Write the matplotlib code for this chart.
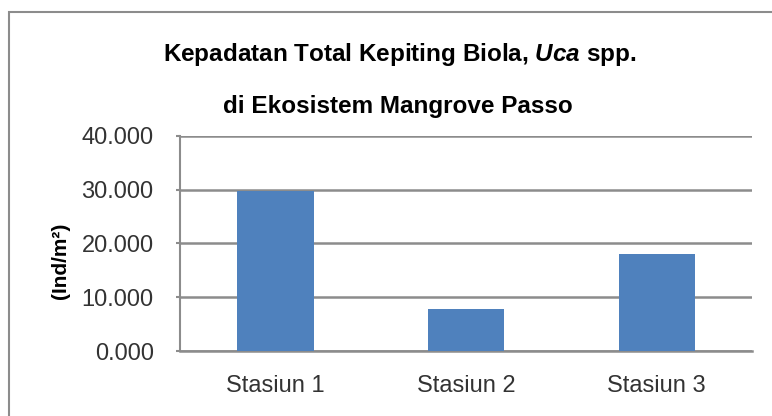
import matplotlib
matplotlib.use("Agg")
import matplotlib.pyplot as plt
from matplotlib.patches import Rectangle

# data
stations = ["Stasiun 1", "Stasiun 2", "Stasiun 3"]
density = [29.8, 7.9, 18.1]
yticks = [0, 10, 20, 30, 40]

plt.rcParams["font.family"] = ["Liberation Sans", "DejaVu Sans"]
plt.rcParams["mathtext.fontset"] = "custom"
plt.rcParams["mathtext.rm"] = "Liberation Sans"
plt.rcParams["mathtext.bf"] = "Liberation Sans:bold"
plt.rcParams["mathtext.it"] = "Liberation Sans:italic"
plt.rcParams["mathtext.bfit"] = "Liberation Sans:bold:italic"

fig = plt.figure(figsize=(7.72, 4.16), dpi=100)
ax = fig.add_axes([0.2332, 0.1562, 0.741, 0.517])

# outer chart frame (runs past the right and bottom edge)
fig.patches.append(Rectangle((8.5 / 772, -0.2), 1.5, 0.2 + 1 - 12 / 416,
                             transform=fig.transFigure, fill=False,
                             edgecolor="#8c8c8c", linewidth=1.5))

x = range(len(stations))
ax.bar(x, density, width=0.4, color="#4f81bd", zorder=3)

ax.set_xlim(-0.5, 2.5)
ax.set_ylim(0, 40)
ax.set_yticks(yticks)
ax.set_yticklabels([f"{v:.3f}" for v in yticks])
ax.set_xticks(list(x))
ax.set_xticklabels(stations)

ax.grid(axis="y", color="#8c8c8c", linewidth=1.8, zorder=0)
for side in ["top", "right"]:
    ax.spines[side].set_visible(False)
ax.spines["left"].set_color("#8c8c8c")
ax.spines["left"].set_linewidth(1.5)
ax.spines["bottom"].set_color("#8c8c8c")
ax.spines["bottom"].set_linewidth(1.8)

ax.tick_params(axis="y", length=3, width=1.5, color="#8c8c8c", pad=16,
               labelsize=17, labelcolor="#333333")
ax.tick_params(axis="x", length=0, pad=17, labelsize=17, labelcolor="#333333")

ax.set_ylabel("(Ind/m²)", fontsize=15, fontweight="bold")
ax.yaxis.set_label_coords(-0.192, 0.42)

fig.text(0.518, 1 - 55 / 416,
         r"Kepadatan Total Kepiting Biola, $\mathbfit{Uca}$ spp.",
         ha="center", va="center", fontsize=17.5, fontweight="bold")
fig.text(0.516, 1 - 107 / 416, "di Ekosistem Mangrove Passo",
         ha="center", va="center", fontsize=17.5, fontweight="bold")

fig.savefig("out.png", dpi=100)
